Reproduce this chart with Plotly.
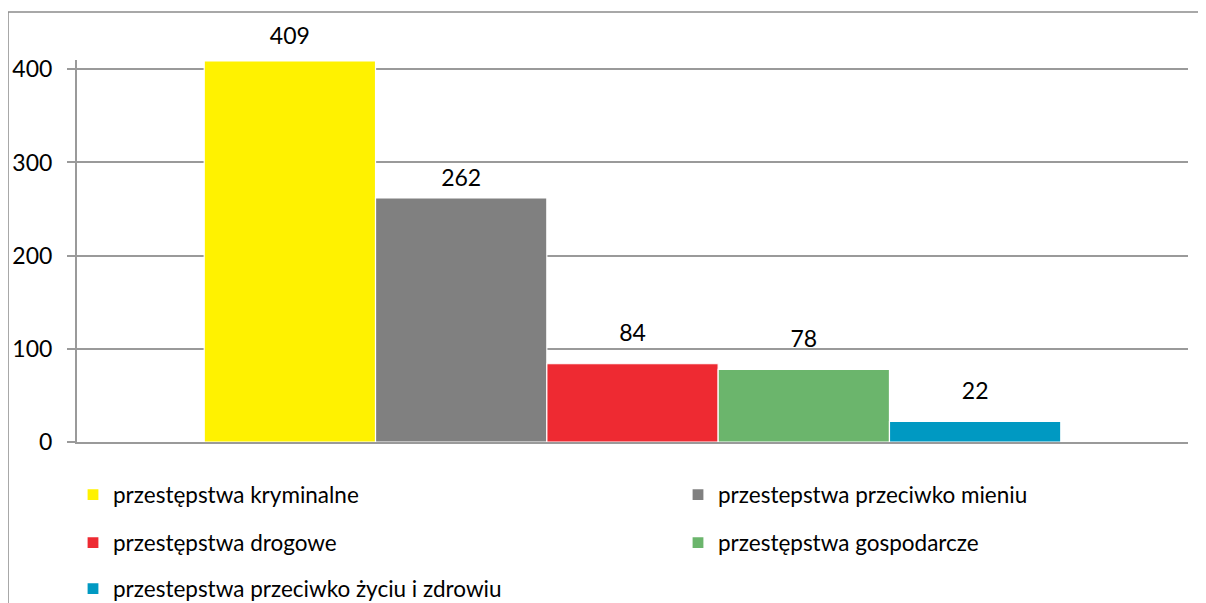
import plotly.graph_objects as go

categories = ["przestępstwa kryminalne", "przestepstwa przeciwko mieniu", "przestępstwa drogowe",
              "przestępstwa gospodarcze", "przestepstwa przeciwko życiu i zdrowiu"]
values = [409, 262, 84, 78, 22]
colors = ["#FFF200", "#808080", "#EE2A32", "#6BB56C", "#0099C2"]
# extra gap (spacer line size, px) below each data label, mimicking the reference placement
label_spacer = [11, 7, 15, 15, 15]

# page body has an 8px margin -> figure coordinates are offset by 8px
W, H = 1206, 603
L, R, T, B = 69, 1180, 52, 434
PW, PH = R - L, B - T

def px(xpix):
    return (xpix - L) / PW

def py(ypix):
    return (B - ypix) / PH

def cx(xpix):
    return xpix / W

def cy(ypix):
    return 1 - ypix / H

legend_ids = ["legend", "legend2", "legend3", "legend4", "legend5"]
legend_pos = [(cx(65), cy(487)), (cx(670), cy(487)), (cx(65), cy(535)),
              (cx(670), cy(535)), (cx(65), cy(581))]

FONT = "Lato"
fig = go.Figure()
for name, v, c, lg, sp in zip(categories, values, colors, legend_ids, label_spacer):
    if sp > 0:
        txt = f"<span style='font-size:23px'>{v}</span><br><span style='font-size:1px'> </span>"
        fsize = sp
    else:
        txt = str(v)
        fsize = 23
    fig.add_trace(go.Bar(
        x=[""], y=[v], name=name, marker=dict(color=c, line=dict(color="white", width=1.2)),
        text=[txt], textposition="outside",
        textfont=dict(size=fsize, color="#000000", family=FONT), cliponaxis=False,
        legend=lg,
    ))

layout_legends = {}
for lg, (lx, ly) in zip(legend_ids, legend_pos):
    layout_legends[lg] = dict(orientation="h", font=dict(size=22.5, family=FONT, color="#000000"),
                              bgcolor="rgba(0,0,0,0)", xanchor="left", yanchor="middle",
                              xref="container", yref="container",
                              x=lx, y=ly, itemwidth=30)

fig.update_layout(
    width=W, height=H,
    margin=dict(l=L, r=W - R, t=T, b=H - B, autoexpand=False),
    paper_bgcolor="white", plot_bgcolor="white",
    barmode="group", bargap=0.229, bargroupgap=0,
    uniformtext=dict(mode=False),
    font=dict(family=FONT, color="#000000"),
    xaxis=dict(showticklabels=False, showline=True, linecolor="#9A9A9A", linewidth=2,
               showgrid=False, ticks=""),
    yaxis=dict(range=[0, 410], tickvals=[0, 100, 200, 300, 400], showgrid=True,
               gridcolor="#9A9A9A", gridwidth=2, showline=True, linecolor="#9A9A9A",
               linewidth=2, ticks="outside", ticklen=8, tickcolor="#9A9A9A", tickwidth=2,
               tickfont=dict(size=23, family=FONT, color="#000000"), ticklabelstandoff=10,
               zeroline=False),
    shapes=[dict(type="rect", xref="paper", yref="paper",
                 x0=px(0), x1=px(1230), y0=py(640), y1=py(4),
                 line=dict(color="#8C8C8C", width=1.5), fillcolor="rgba(0,0,0,0)", layer="below")],
    showlegend=True,
    **layout_legends,
)
fig.write_html("out.html")
